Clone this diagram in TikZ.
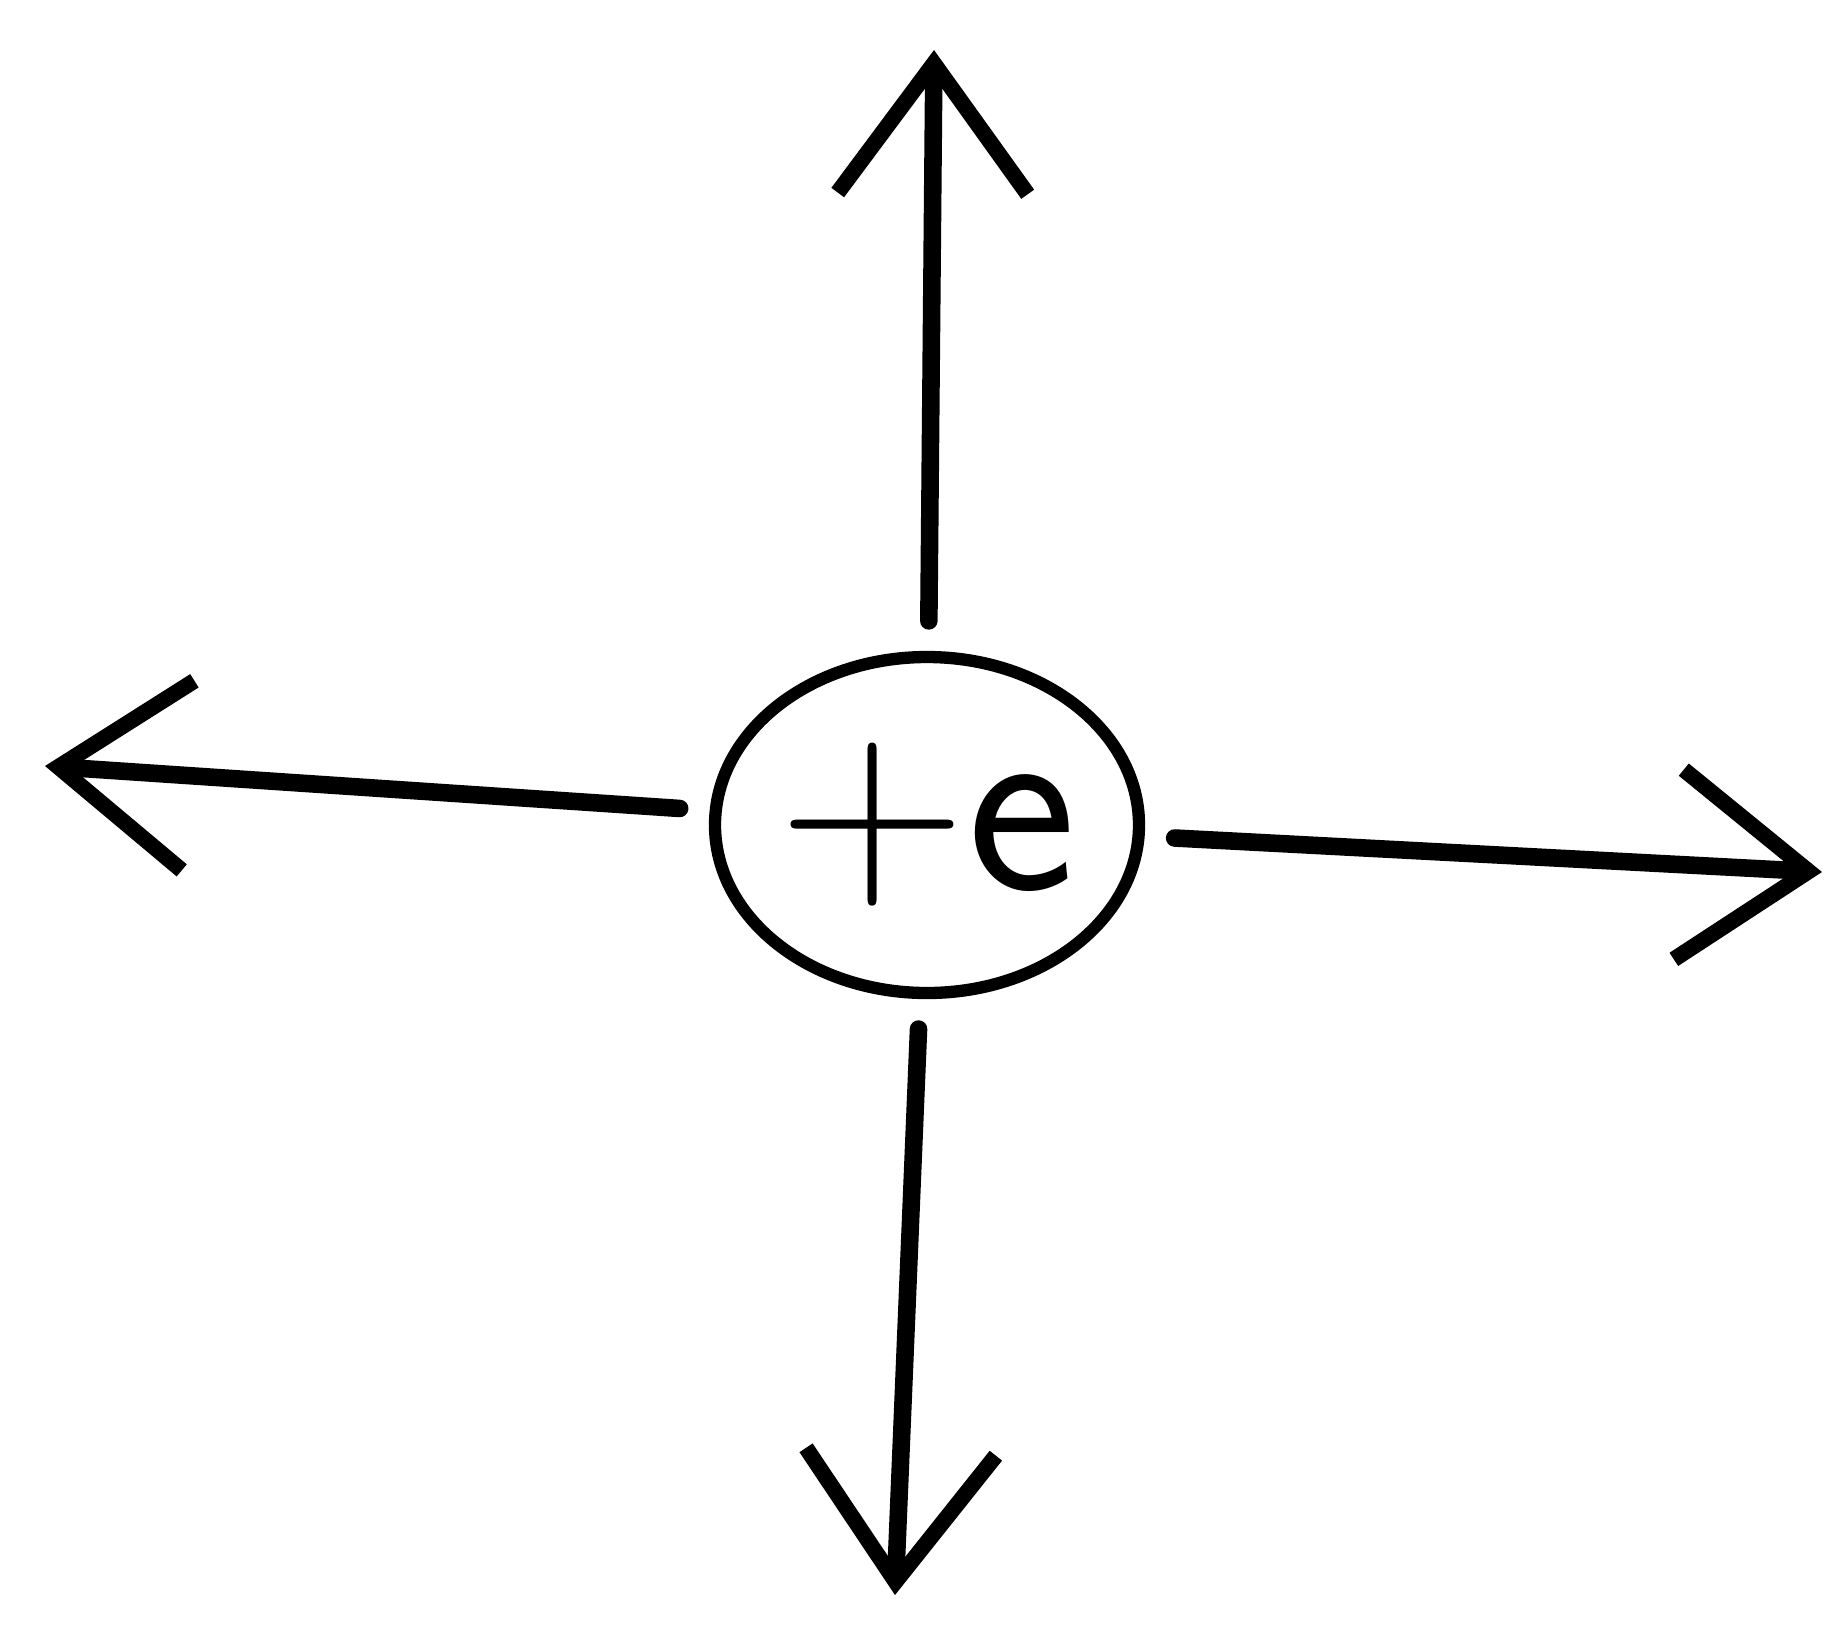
\documentclass[tikz,border=0pt]{standalone}
\usepackage{tikz}
\usetikzlibrary{arrows.meta,positioning,shapes.geometric}
\tikzset{
  chargebox/.style={draw=black, ellipse, line width=3.5pt, minimum width=4.24cm, minimum height=3.36cm, inner sep=0pt, font=\fontsize{74}{74}\selectfont\sffamily},
  fieldarrow/.style={-{Straight Barb[length=1.3cm, width=1.9cm, line width=4.5pt]}, line width=5pt, line cap=round, draw=black, shorten <=0.3cm},
}
\begin{document}
\begin{tikzpicture}
    \useasboundingbox (0,0) rectangle (18.47,-16.27);
    \node[chargebox] (charge) at (9.27,-8.25) {+e};
    \coordinate (up) at (9.34,-0.5);
    \coordinate (left) at (0.45,-7.66);
    \coordinate (right) at (18.22,-8.72);
    \coordinate (down) at (8.95,-15.95);
    \draw[fieldarrow] (charge) -- (up);
    \draw[fieldarrow] (charge) -- (left);
    \draw[fieldarrow] (charge) -- (right);
    \draw[fieldarrow] (charge) -- (down);
\end{tikzpicture}
\end{document}
